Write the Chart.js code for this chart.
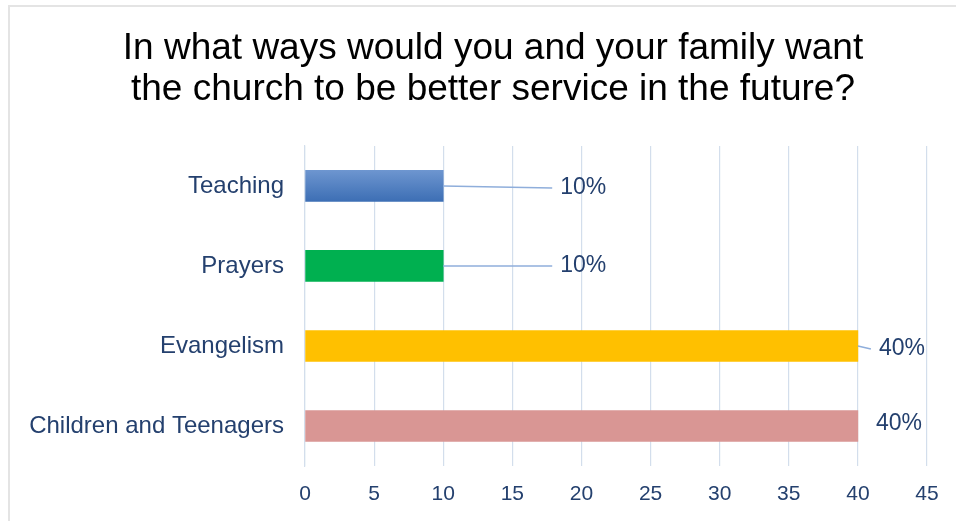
<!DOCTYPE html>
<html>
<head>
<meta charset="utf-8">
<script src="https://cdn.jsdelivr.net/npm/chart.js@4"></script>
<style>
  html, body { margin: 0; padding: 0; background: #ffffff; }
  #wrap { position: relative; width: 956px; height: 521px; overflow: hidden; }
  #frame {
    position: absolute; left: 8px; top: 5px; right: -20px; bottom: -20px;
    border-top: 2px solid #e4e4e4; border-left: 2px solid #e4e4e4;
  }
  #graph { position: absolute; left: 0; top: 0; }
</style>
</head>
<body>
<div id="wrap">
  <div id="frame"></div>
  <canvas id="graph" width="956" height="521"></canvas>
</div>
<script>
// Categories and values (percent of answers)
var categories = ['Teaching', 'Prayers', 'Evangelism', 'Children and Teenagers'];
var values = [10, 10, 40, 40];
var valueLabels = ['10%', '10%', '40%', '40%'];
var xTicks = [0, 5, 10, 15, 20, 25, 30, 35, 40, 45];

var barColors = ['#4a7cc1', '#00b050', '#ffc000', '#d99694'];
var textColor = '#24406e';
var fontFamily = '"Liberation Sans", Arial, sans-serif';

// where each value label sits relative to the end of its bar (dx, dy) and whether it gets a leader line
var labelPlacement = [
    { dx: 117, dy: 2, leader: true },
    { dx: 117, dy: 0, leader: true },
    { dx: 21, dy: 3, leader: true },
    { dx: 18, dy: -2, leader: false }
];

function barFill(c) {
    var chart = c.chart;
    var i = c.dataIndex;
    if (i !== 0 || !chart.chartArea) return barColors[i];
    // Teaching bar has a soft vertical gradient
    var y = chart.scales.y.getPixelForValue(i);
    var g = chart.ctx.createLinearGradient(0, y - 16, 0, y + 16);
    g.addColorStop(0, '#6e96d0');
    g.addColorStop(1, '#3c6eb4');
    return g;
}

// title is centred a bit to the right of the full width
var titleShift = {
    id: 'titleShift',
    afterLayout: function (chart) {
        if (chart.titleBlock) chart.titleBlock.left += 49;
    }
};

var valueLabelPlugin = {
    id: 'valueLabels',
    afterDatasetsDraw: function (chart) {
        var ctx = chart.ctx;
        var meta = chart.getDatasetMeta(0);
        ctx.save();
        ctx.font = '23px ' + fontFamily;
        ctx.fillStyle = textColor;
        ctx.textBaseline = 'middle';
        ctx.textAlign = 'left';
        meta.data.forEach(function (bar, i) {
            var p = labelPlacement[i];
            var lx = bar.x + p.dx;
            var ly = bar.y + p.dy;
            if (p.leader) {
                ctx.strokeStyle = '#8faedb';
                ctx.lineWidth = 1.5;
                ctx.beginPath();
                ctx.moveTo(bar.x, bar.y);
                ctx.lineTo(lx - 8, ly);
                ctx.stroke();
            }
            ctx.fillText(valueLabels[i], lx, ly);
        });
        ctx.restore();
    }
};

var ctx = document.getElementById('graph').getContext('2d');
var myChart = new Chart(ctx, {
    type: 'bar',
    data: {
        labels: categories,
        datasets: [{
            data: values,
            backgroundColor: barFill,
            borderWidth: 0,
            barThickness: 31
        }]
    },
    plugins: [titleShift, valueLabelPlugin],
    options: {
        indexAxis: 'y',
        responsive: false,
        animation: false,
        layout: { padding: { left: 10, right: 29, top: 0, bottom: 10 } },
        scales: {
            x: {
                min: 0,
                max: 45,
                afterBuildTicks: function (axis) {
                    axis.ticks = xTicks.map(function (v) { return { value: v }; });
                },
                afterFit: function (axis) { axis.height = 45; },
                grid: { color: '#d3deec', lineWidth: 1.2, drawTicks: false },
                border: { display: false },
                ticks: {
                    padding: 16,
                    color: textColor,
                    font: { family: fontFamily, size: 21 }
                }
            },
            y: {
                afterFit: function (axis) { axis.width = 295; },
                grid: { display: false, drawTicks: false },
                border: { display: true, color: '#d3deec', width: 1.2 },
                ticks: {
                    padding: 21,
                    color: textColor,
                    font: { family: fontFamily, size: 24 }
                }
            }
        },
        plugins: {
            legend: { display: false },
            tooltip: { enabled: false },
            title: {
                display: true,
                text: ['In what ways would you and your family want', 'the church to be better service in the future?'],
                color: '#000000',
                font: { family: fontFamily, size: 37, weight: 'normal', lineHeight: 1.12 },
                padding: { top: 28, bottom: 35 }
            }
        }
    }
});
</script>
</body>
</html>
